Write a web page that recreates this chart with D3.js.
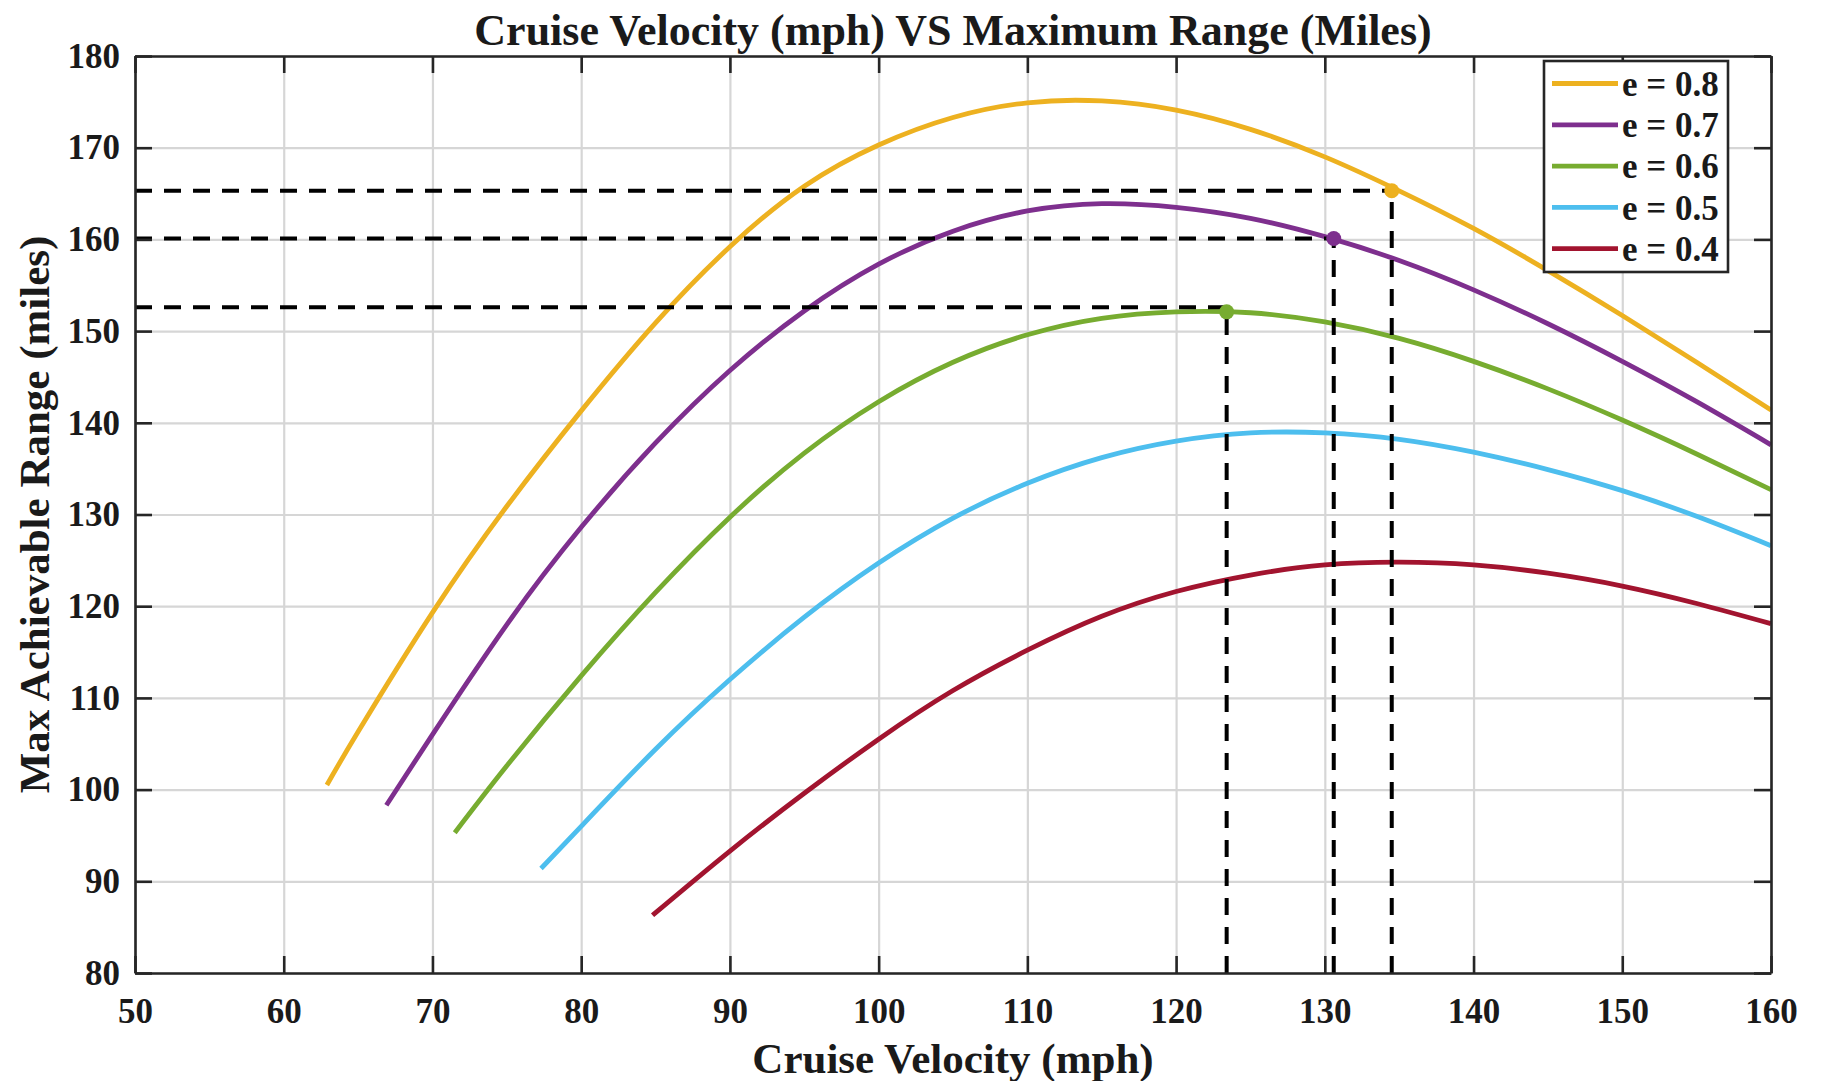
<!DOCTYPE html>
<html>
<head>
<meta charset="utf-8">
<script src="https://d3js.org/d3.v7.min.js"></script>
<style>
  body { margin: 0; background: white; }
  text { font-family: "Liberation Serif", "Times New Roman", serif; font-weight: bold; fill: #1a1a1a; }
</style>
</head>
<body>
<svg width="1822" height="1081"></svg>
<script>
// data
const xTicks = [50, 60, 70, 80, 90, 100, 110, 120, 130, 140, 150, 160];
const yTicks = [80, 90, 100, 110, 120, 130, 140, 150, 160, 170, 180];

const labels = ['e = 0.8', 'e = 0.7', 'e = 0.6', 'e = 0.5', 'e = 0.4'];
const colors = ['#EDB120', '#7E2F8E', '#77AC30', '#4DBEEE', '#A2142F'];

const velE08 = [62.9, 65, 70, 75, 80, 85, 90, 95, 100, 105, 110, 115, 120, 125, 130, 135, 140, 145, 150, 155, 160];
const rangeE08 = [100.5, 106.3, 119.3, 130.9, 141.3, 150.9, 159.2, 165.8, 170.3, 173.3, 174.9, 175.1, 174.1, 172.0, 169.0, 165.3, 161.2, 156.6, 151.7, 146.6, 141.4];

const velE07 = [66.9, 70, 75, 80, 85, 90, 95, 100, 105, 110, 115, 120, 125, 130, 135, 140, 145, 150, 155, 160];
const rangeE07 = [98.3, 106.0, 118.0, 128.6, 137.8, 145.7, 152.2, 157.3, 160.9, 163.1, 163.9, 163.5, 162.3, 160.3, 157.7, 154.5, 150.8, 146.7, 142.3, 137.6];

const velE06 = [71.5, 75, 80, 85, 90, 95, 100, 105, 110, 115, 120, 125, 130, 135, 140, 145, 150, 155, 160];
const rangeE06 = [95.3, 102.6, 112.4, 121.5, 129.7, 136.7, 142.3, 146.6, 149.6, 151.4, 152.1, 152.0, 151.0, 149.2, 146.7, 143.7, 140.3, 136.6, 132.7];

const velE05 = [77.3, 80, 85, 90, 95, 100, 105, 110, 115, 120, 125, 130, 135, 140, 145, 150, 155, 160];
const rangeE05 = [91.4, 96.0, 104.4, 112.0, 118.8, 124.7, 129.6, 133.4, 136.2, 138.0, 138.9, 138.9, 138.2, 136.8, 134.9, 132.6, 129.8, 126.6];

const velE04 = [84.8, 90, 95, 100, 105, 110, 115, 120, 125, 130, 135, 140, 145, 150, 155, 160];
const rangeE04 = [86.3, 93.3, 99.6, 105.5, 110.8, 115.2, 118.9, 121.6, 123.4, 124.5, 124.8, 124.5, 123.6, 122.2, 120.3, 118.1];

// chosen operating points (velocity, range) and the level of their dashed guide
const pointVel = [134.5, 130.6, 123.4];
const pointRange = [165.3, 160.1, 152.1];
const guideRange = [165.3, 160.1, 152.6];
const pointColors = ['#EDB120', '#7E2F8E', '#77AC30'];

const series = [
  [velE08, rangeE08], [velE07, rangeE07], [velE06, rangeE06], [velE05, rangeE05], [velE04, rangeE04]
];

const plotL = 135, plotR = 1771, plotT = 56, plotB = 973;
const x = d3.scaleLinear().domain([50, 160]).range([plotL, plotR]);
const y = d3.scaleLinear().domain([80, 180]).range([plotB, plotT]);
const svg = d3.select('svg');

// grid
svg.append('g').attr('transform', `translate(0,${plotB})`)
  .call(d3.axisBottom(x).tickValues(xTicks).tickSize(-(plotB - plotT)).tickFormat(''))
  .call(g => g.select('.domain').remove())
  .selectAll('line').attr('stroke', '#d6d6d6').attr('stroke-width', 2.2);
svg.append('g').attr('transform', `translate(${plotL},0)`)
  .call(d3.axisLeft(y).tickValues(yTicks).tickSize(-(plotR - plotL)).tickFormat(''))
  .call(g => g.select('.domain').remove())
  .selectAll('line').attr('stroke', '#d6d6d6').attr('stroke-width', 2.2);

// curves
const line = d3.line().x(d => x(d[0])).y(d => y(d[1])).curve(d3.curveNatural);
series.forEach((s, i) => {
  svg.append('path')
    .datum(s[0].map((v, j) => [v, s[1][j]]))
    .attr('fill', 'none')
    .attr('stroke', colors[i])
    .attr('stroke-width', 4.8)
    .attr('d', line);
});

// dashed guides
pointVel.forEach((v, i) => {
  svg.append('line')
    .attr('x1', x(50)).attr('x2', x(v))
    .attr('y1', y(guideRange[i])).attr('y2', y(guideRange[i]))
    .attr('stroke', 'black').attr('stroke-width', 4).attr('stroke-dasharray', '17,12');
  svg.append('line')
    .attr('x1', x(v)).attr('x2', x(v))
    .attr('y1', y(80)).attr('y2', y(pointRange[i]))
    .attr('stroke', 'black').attr('stroke-width', 4).attr('stroke-dasharray', '17,12');
});
svg.selectAll('circle.pt').data(pointVel).enter().append('circle')
  .attr('class', 'pt')
  .attr('cx', d => x(d))
  .attr('cy', (d, i) => y(pointRange[i]))
  .attr('r', 7.5)
  .attr('fill', (d, i) => pointColors[i]);

// axes box with inward ticks
const axisColor = '#262626';
function styleAxis(g) {
  g.select('.domain').attr('stroke', axisColor).attr('stroke-width', 2.6);
  g.selectAll('.tick line').attr('stroke', axisColor).attr('stroke-width', 2.6);
  g.selectAll('.tick text').style('font-size', '35px').style('font-family', '"Liberation Serif", serif')
    .style('font-weight', 'bold').attr('fill', '#1a1a1a');
}
svg.append('g').attr('transform', `translate(0,${plotB})`)
  .call(d3.axisBottom(x).tickValues(xTicks).tickSize(-17).tickSizeOuter(0).tickPadding(25))
  .call(styleAxis);
svg.append('g').attr('transform', `translate(0,${plotT})`)
  .call(d3.axisTop(x).tickValues(xTicks).tickSize(-17).tickSizeOuter(0).tickFormat(''))
  .call(styleAxis);
svg.append('g').attr('transform', `translate(${plotL},0)`)
  .call(d3.axisLeft(y).tickValues(yTicks).tickSize(-17).tickSizeOuter(0).tickPadding(15))
  .call(styleAxis);
svg.append('g').attr('transform', `translate(${plotR},0)`)
  .call(d3.axisRight(y).tickValues(yTicks).tickSize(-17).tickSizeOuter(0).tickFormat(''))
  .call(styleAxis);

// titles
svg.append('text').attr('x', (plotL + plotR) / 2).attr('y', 45)
  .attr('text-anchor', 'middle').style('font-size', '44px')
  .text('Cruise Velocity (mph) VS Maximum Range (Miles)');
svg.append('text').attr('x', (plotL + plotR) / 2).attr('y', 1073)
  .attr('text-anchor', 'middle').style('font-size', '43px')
  .text('Cruise Velocity (mph)');
svg.append('text').attr('transform', `translate(49,${(plotT + plotB) / 2}) rotate(-90)`)
  .attr('text-anchor', 'middle').style('font-size', '43px')
  .text('Max Achievable Range (miles)');

// legend
const lg = svg.append('g');
lg.append('rect').attr('x', 1544).attr('y', 61).attr('width', 184).attr('height', 211)
  .attr('fill', 'white').attr('stroke', axisColor).attr('stroke-width', 2.6);
labels.forEach((lab, i) => {
  const ly = 83.5 + i * 41.3;
  lg.append('line').attr('x1', 1552).attr('x2', 1618).attr('y1', ly).attr('y2', ly)
    .attr('stroke', colors[i]).attr('stroke-width', 4.8);
  lg.append('text').attr('x', 1622).attr('y', ly).attr('dy', '0.35em')
    .style('font-size', '35px').text(lab);
});
</script>
</body>
</html>
